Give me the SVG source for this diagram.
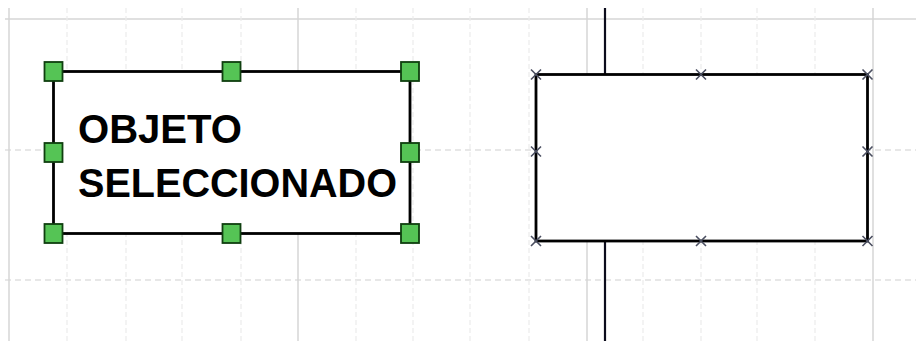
<svg xmlns="http://www.w3.org/2000/svg" width="916" height="341" viewBox="0 0 916 341">
<style>
.major{stroke:#d6d6d6;stroke-width:1.5;fill:none}
.minor{stroke:#ebebeb;stroke-width:1.2;fill:none;stroke-dasharray:5 3}
.hdash{stroke:#e0e0e0;stroke-width:1.5;fill:none;stroke-dasharray:6 4}
.box{fill:#ffffff;stroke:#000000;stroke-width:2.8}
.handle{fill:#55c455;stroke:#0f3f0f;stroke-width:1.8}
.cp{stroke:#4a4e60;stroke-width:1.6;fill:none}
.lbl{font-family:"Liberation Sans",Arial,sans-serif;font-weight:bold;font-size:41px;fill:#000000}
</style>
<rect x="0" y="0" width="916" height="341" fill="#ffffff"/>
<g id="grid">
<line class="major" x1="5" y1="19" x2="916" y2="19"/>
<line class="hdash" x1="5" y1="150" x2="916" y2="150"/>
<line class="hdash" x1="5" y1="280" x2="916" y2="280"/>
<line class="major" x1="9" y1="8" x2="9" y2="341"/>
<line class="major" x1="298" y1="8" x2="298" y2="341"/>
<line class="major" x1="587" y1="8" x2="587" y2="341"/>
<line class="major" x1="873" y1="8" x2="873" y2="341"/>
<line class="minor" x1="67" y1="8" x2="67" y2="341"/>
<line class="minor" x1="126" y1="8" x2="126" y2="341"/>
<line class="minor" x1="182" y1="8" x2="182" y2="341"/>
<line class="minor" x1="241" y1="8" x2="241" y2="341"/>
<line class="minor" x1="356" y1="8" x2="356" y2="341"/>
<line class="minor" x1="413" y1="8" x2="413" y2="341"/>
<line class="minor" x1="470" y1="8" x2="470" y2="341"/>
<line class="minor" x1="529" y1="8" x2="529" y2="341"/>
<line class="minor" x1="643" y1="8" x2="643" y2="341"/>
<line class="minor" x1="701" y1="8" x2="701" y2="341"/>
<line class="minor" x1="757" y1="8" x2="757" y2="341"/>
<line class="minor" x1="815" y1="8" x2="815" y2="341"/>
</g>
<g id="connectors">
<line x1="605" y1="8" x2="605" y2="341" stroke="#0c0c1c" stroke-width="2.2"/>
</g>
<g id="selected-object">
<rect class="box" x="53.5" y="71.5" width="356.5" height="162"/>
<text class="lbl" x="78" y="143" textLength="164" lengthAdjust="spacingAndGlyphs">OBJETO</text>
<text class="lbl" x="78" y="196.5" textLength="319" lengthAdjust="spacingAndGlyphs">SELECCIONADO</text>
<rect class="handle" x="44.5" y="62" width="18" height="19"/>
<rect class="handle" x="222.5" y="62" width="18" height="19"/>
<rect class="handle" x="401" y="62" width="18" height="19"/>
<rect class="handle" x="44.5" y="143" width="18" height="19"/>
<rect class="handle" x="401" y="143" width="18" height="19"/>
<rect class="handle" x="44.5" y="224" width="18" height="19"/>
<rect class="handle" x="222.5" y="224" width="18" height="19"/>
<rect class="handle" x="401" y="224" width="18" height="19"/>
</g>
<g id="unselected-object">
<rect class="box" x="536" y="74.5" width="331.5" height="166.5"/>
<path class="cp" d="M531,69.5l10,10M541,69.5l-10,10M696,69.5l10,10M706,69.5l-10,10M862.5,69.5l10,10M872.5,69.5l-10,10M531,146.5l10,10M541,146.5l-10,10M862.5,146.5l10,10M872.5,146.5l-10,10M531,236l10,10M541,236l-10,10M696,236l10,10M706,236l-10,10M862.5,236l10,10M872.5,236l-10,10"/>
</g>
</svg>
